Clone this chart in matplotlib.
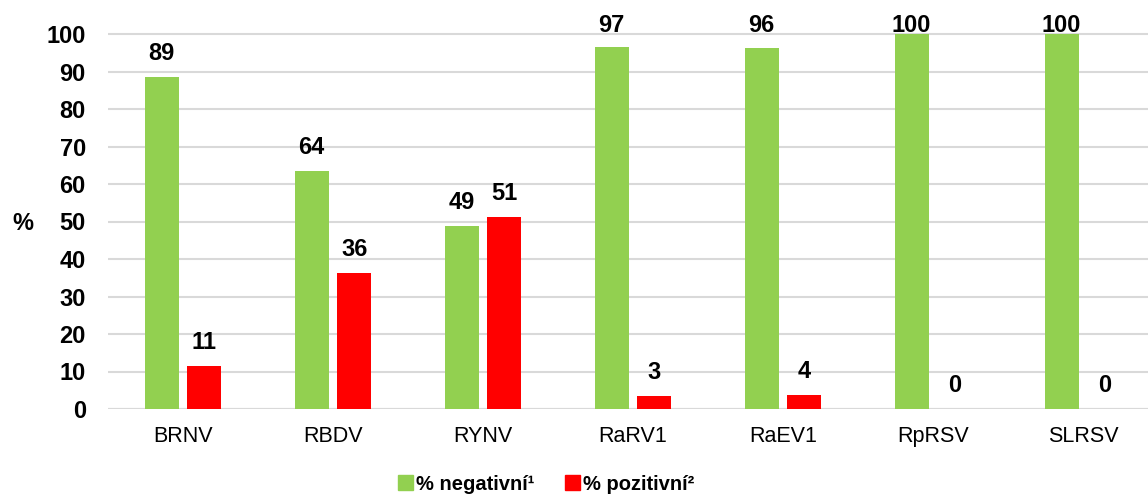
import matplotlib
matplotlib.use('Agg')
import matplotlib.pyplot as plt
from matplotlib.patches import Patch
import numpy as np

categories = ['BRNV', 'RBDV', 'RYNV', 'RaRV1', 'RaEV1', 'RpRSV', 'SLRSV']
negative = [88.5, 63.6, 48.8, 96.6, 96.3, 100, 100]
positive = [11.5, 36.4, 51.2, 3.4, 3.7, 0, 0]
labels_neg = ['89', '64', '49', '97', '96', '100', '100']
labels_pos = ['11', '36', '51', '3', '4', '0', '0']
series_names = ['% negativní¹', '% pozitivní²']

green = '#92d050'
red = '#ff0000'

plt.rcParams['font.family'] = ['Liberation Sans', 'DejaVu Sans']

W, H = 1148, 503
fig = plt.figure(figsize=(W / 100, H / 100), dpi=100)
ymax = 100.5
ax = fig.add_axes([108 / W, 94 / H, 1050 / W, ymax * 3.75 / H])

x = np.arange(len(categories))
bw = 0.2267
off = 0.1433
ax.bar(x - off, negative, bw, color=green, zorder=3)
ax.bar(x + off, positive, bw, color=red, zorder=3)

# labels sit ~17px above the bar, capped just above the plot top
for xs, vals, labs in [(x - off, negative, labels_neg), (x + off, positive, labels_pos)]:
    for xi, v, lab in zip(xs, vals, labs):
        ax.text(xi, min(v + 4.5, 100.5), lab, ha='center', va='baseline',
                fontsize=17, fontweight='bold', clip_on=False)

ax.set_xlim(-0.5, len(categories) - 0.5)
ax.set_ylim(0, ymax)
ax.set_yticks(range(0, 101, 10))
ax.set_xticks(x)
ax.set_xticklabels(categories, fontsize=15.5)
for t in ax.get_yticklabels():
    t.set_fontweight('bold')
    t.set_fontsize(17)
ax.tick_params(axis='y', length=0, pad=16)
ax.tick_params(axis='x', length=0, pad=12)
ax.grid(axis='y', color='#d9d9d9', linewidth=1.5, zorder=0)
for s in ax.spines.values():
    s.set_visible(False)
ax.axhline(0, color='#d9d9d9', linewidth=1.5, zorder=2)

fig.text(23 / W, 1 - 224 / H, '%', fontsize=17, fontweight='bold',
         ha='center', va='center')

handles = [Patch(color=green), Patch(color=red)]
fig.legend(handles, series_names, loc='center', bbox_to_anchor=(546 / W, 1 - 484 / H),
           ncol=2, frameon=False, handlelength=0.75, handleheight=0.75,
           handletextpad=0.15, columnspacing=1.5,
           prop={'weight': 'bold', 'size': 14.5})

fig.savefig('out.png', dpi=100)
